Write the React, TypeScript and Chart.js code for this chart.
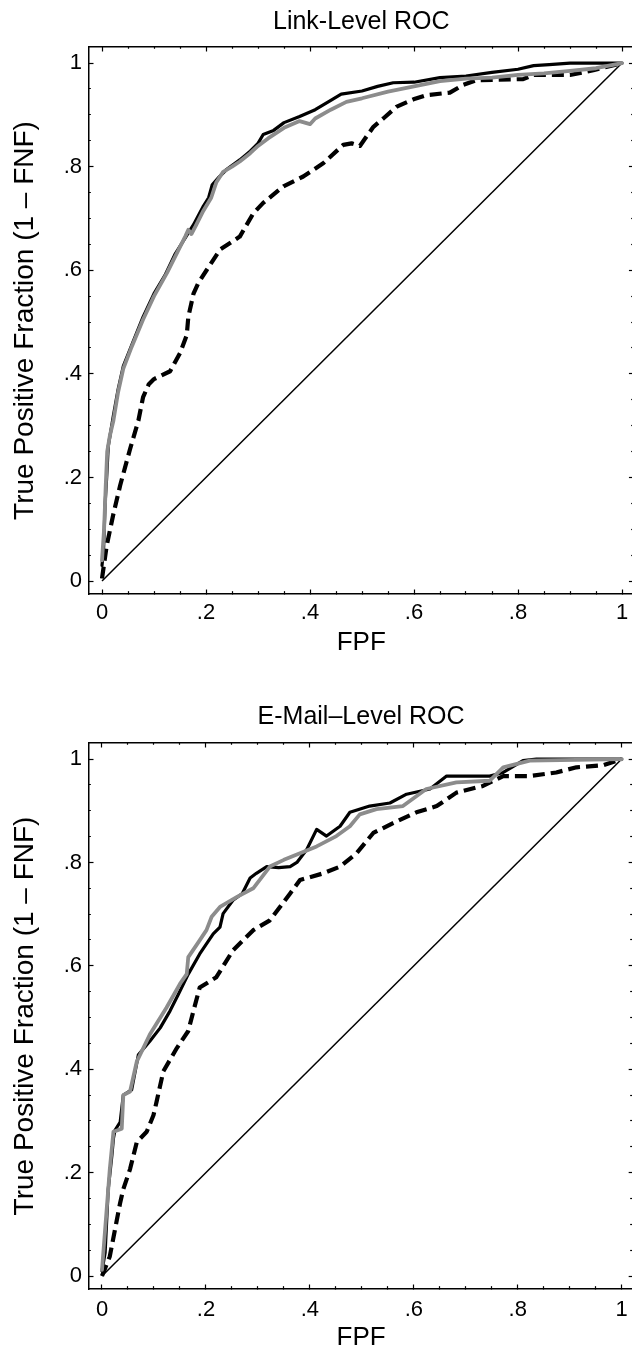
import React, { useEffect, useRef } from 'react';
import { Chart, registerables } from 'chart.js';

Chart.register(...registerables);

const FONT = "'Liberation Sans', Arial, Helvetica, sans-serif";

// ---- tick definitions ----
const MAJOR_TICKS = [0, 0.2, 0.4, 0.6, 0.8, 1];
const TICK_LABELS = ['0', '.2', '.4', '.6', '.8', '1'];
const ALL_TICKS = [0, 0.05, 0.1, 0.15, 0.2, 0.25, 0.3, 0.35, 0.4, 0.45, 0.5, 0.55, 0.6, 0.65, 0.7, 0.75, 0.8, 0.85, 0.9, 0.95, 1];

const X_TITLE = 'FPF';
const Y_TITLE = 'True Positive Fraction (1 – FNF)';
const TITLE_LINK = 'Link-Level ROC';
const TITLE_EMAIL = 'E-Mail–Level ROC';

// ---- chance diagonal ----
const CHANCE: [number, number][] = [[0, 0], [1, 1]];

// ---- Link-Level ROC ----
const LINK_BLACK: [number, number][] = [
  [0, 0.03], [0.003, 0.06], [0.006, 0.15], [0.009, 0.2], [0.012, 0.26], [0.017, 0.29], [0.022, 0.32],
  [0.031, 0.37], [0.041, 0.415], [0.057, 0.455], [0.079, 0.51], [0.1, 0.555], [0.121, 0.59], [0.14, 0.63],
  [0.166, 0.672], [0.176, 0.688], [0.195, 0.724], [0.205, 0.74], [0.212, 0.765], [0.225, 0.78], [0.24, 0.795],
  [0.265, 0.813], [0.285, 0.83], [0.3, 0.845], [0.31, 0.862], [0.33, 0.87], [0.35, 0.885], [0.38, 0.897],
  [0.41, 0.91], [0.44, 0.928], [0.46, 0.94], [0.5, 0.946], [0.53, 0.955], [0.56, 0.962], [0.6, 0.963],
  [0.65, 0.972], [0.7, 0.975], [0.75, 0.982], [0.8, 0.988], [0.83, 0.995], [0.86, 0.997], [0.9, 1.0], [1, 1],
];
const LINK_GRAY: [number, number][] = [
  [0, 0.04], [0.004, 0.1], [0.007, 0.18], [0.01, 0.25], [0.015, 0.28], [0.022, 0.31], [0.031, 0.365],
  [0.041, 0.41], [0.057, 0.452], [0.079, 0.505], [0.1, 0.55], [0.125, 0.595], [0.145, 0.635], [0.16, 0.665],
  [0.166, 0.678], [0.172, 0.67], [0.18, 0.685], [0.195, 0.715], [0.21, 0.74], [0.22, 0.77], [0.233, 0.79],
  [0.25, 0.8], [0.265, 0.81], [0.285, 0.826], [0.3, 0.84], [0.32, 0.855], [0.35, 0.875], [0.38, 0.888],
  [0.4, 0.882], [0.41, 0.893], [0.44, 0.91], [0.47, 0.925], [0.5, 0.932], [0.55, 0.945], [0.6, 0.955],
  [0.65, 0.965], [0.7, 0.97], [0.75, 0.972], [0.8, 0.977], [0.85, 0.98], [0.9, 0.985], [0.95, 0.99], [1, 1],
];
const LINK_DASHED: [number, number][] = [
  [0, 0.005], [0.009, 0.068], [0.022, 0.13], [0.035, 0.185], [0.054, 0.255], [0.07, 0.31], [0.079, 0.355],
  [0.09, 0.38], [0.1, 0.39], [0.131, 0.405], [0.15, 0.44], [0.163, 0.475], [0.166, 0.51], [0.176, 0.555],
  [0.185, 0.575], [0.201, 0.6], [0.227, 0.64], [0.265, 0.665], [0.291, 0.71], [0.31, 0.73], [0.349, 0.762],
  [0.387, 0.781], [0.426, 0.807], [0.464, 0.842], [0.48, 0.845], [0.496, 0.84], [0.51, 0.86], [0.522, 0.877],
  [0.541, 0.893], [0.567, 0.916], [0.599, 0.93], [0.624, 0.938], [0.669, 0.943], [0.695, 0.958], [0.72, 0.967],
  [0.81, 0.969], [0.829, 0.977], [0.9, 0.977], [0.945, 0.986], [0.98, 0.995], [1, 1],
];

// ---- E-Mail-Level ROC ----
const EMAIL_BLACK: [number, number][] = [
  [0, 0.01], [0.006, 0.045], [0.012, 0.168], [0.019, 0.233], [0.022, 0.266], [0.025, 0.282], [0.035, 0.298],
  [0.041, 0.35], [0.057, 0.36], [0.07, 0.428], [0.092, 0.454], [0.112, 0.48], [0.131, 0.513], [0.147, 0.545],
  [0.166, 0.584], [0.188, 0.623], [0.214, 0.662], [0.227, 0.675], [0.233, 0.701], [0.252, 0.727], [0.27, 0.74],
  [0.285, 0.77], [0.297, 0.779], [0.317, 0.792], [0.34, 0.79], [0.362, 0.792], [0.375, 0.8], [0.394, 0.825],
  [0.413, 0.864], [0.432, 0.851], [0.458, 0.87], [0.477, 0.897], [0.515, 0.909], [0.554, 0.915], [0.586, 0.932],
  [0.631, 0.942], [0.663, 0.967], [0.701, 0.967], [0.746, 0.967], [0.772, 0.974], [0.81, 0.997], [0.836, 1], [1, 1],
];
const EMAIL_GRAY: [number, number][] = [
  [0, 0.012], [0.015, 0.207], [0.022, 0.279], [0.038, 0.285], [0.041, 0.35], [0.054, 0.357], [0.067, 0.415],
  [0.092, 0.467], [0.124, 0.519], [0.15, 0.565], [0.163, 0.584], [0.166, 0.617], [0.185, 0.645], [0.201, 0.669],
  [0.211, 0.695], [0.227, 0.714], [0.259, 0.733], [0.291, 0.75], [0.323, 0.792], [0.35, 0.805], [0.381, 0.818],
  [0.413, 0.831], [0.451, 0.851], [0.477, 0.87], [0.496, 0.893], [0.528, 0.903], [0.579, 0.909], [0.624, 0.942],
  [0.682, 0.955], [0.746, 0.958], [0.772, 0.984], [0.823, 0.997], [1, 1],
];
const EMAIL_DASHED: [number, number][] = [
  [0, 0], [0.015, 0.038], [0.025, 0.09], [0.035, 0.142], [0.041, 0.168], [0.054, 0.207], [0.067, 0.259],
  [0.086, 0.279], [0.099, 0.311], [0.105, 0.337], [0.118, 0.396], [0.144, 0.441], [0.166, 0.474], [0.176, 0.513],
  [0.188, 0.558], [0.22, 0.578], [0.252, 0.63], [0.291, 0.669], [0.323, 0.688], [0.362, 0.74], [0.381, 0.766],
  [0.426, 0.779], [0.458, 0.792], [0.49, 0.818], [0.522, 0.857], [0.56, 0.876], [0.605, 0.897], [0.644, 0.909],
  [0.682, 0.935], [0.733, 0.948], [0.772, 0.967], [0.823, 0.967], [0.874, 0.974], [0.913, 0.984], [0.964, 0.988], [1, 1],
];

// ---- axis ranges ----
const X_MIN = -0.025;
const X_MAX = 1.022;
const Y_MIN = -0.025;
const Y_MAX = 1.031;

const TL = 4.5; // major tick length (inward)
const MINOR = 2.6; // minor tick length
const BORDER_W = 1.5;

const isMajor = (v: number) => MAJOR_TICKS.some((m) => Math.abs(m - v) < 1e-6);
const tickLabel = (v: number) => {
  const i = MAJOR_TICKS.findIndex((m) => Math.abs(m - v) < 1e-6);
  return i >= 0 ? TICK_LABELS[i] : '';
};

const pts = (arr: [number, number][]) => arr.map(([x, y]) => ({ x, y }));

function gridOpts(startsInside: boolean) {
  const total = TL + BORDER_W / 2;
  return {
    drawOnChartArea: false,
    drawTicks: true,
    tickLength: -TL,
    tickColor: '#000',
    tickWidth: 1.2,
    tickBorderDash: (ctx: any) => {
      const v = ctx && ctx.tick ? ctx.tick.value : 0;
      if (isMajor(v)) return [];
      return startsInside ? [0, total - MINOR, MINOR + 1, 60] : [MINOR + BORDER_W / 2, 60];
    },
  };
}

const setTicks = (scale: any) => {
  scale.ticks = ALL_TICKS.map((v) => ({ value: v }));
};

interface Spec {
  title: string;
  black: [number, number][];
  gray: [number, number][];
  dashed: [number, number][];
  height: number;
  titlePadTop: number;
  titlePadBottom: number;
  xAxisHeight: number;
  xLabelPad: number;
  xTitlePadBottom: number;
}

const CANVAS_W = 640;
const LEFT_W = 89;
const PLOT_W = (X_MAX - X_MIN) * 520;

function makeConfig(s: Spec): any {
  return {
    type: 'scatter',
    data: {
      datasets: [
        { data: pts(s.gray), borderColor: '#8c8c8c', borderWidth: 3.8, showLine: true, pointRadius: 0, borderJoinStyle: 'round', borderCapStyle: 'round' },
        { data: pts(s.black), borderColor: '#000', borderWidth: 3.2, showLine: true, pointRadius: 0, borderJoinStyle: 'round', borderCapStyle: 'round' },
        { data: pts(s.dashed), borderColor: '#000', borderWidth: 4.2, borderDash: [12, 6], showLine: true, pointRadius: 0, borderJoinStyle: 'round' },
        { data: pts(CHANCE), borderColor: '#000', borderWidth: 1.5, showLine: true, pointRadius: 0 },
      ],
    },
    options: {
      animation: false,
      responsive: false,
      events: [],
      layout: { autoPadding: false, padding: { left: 0, right: CANVAS_W - LEFT_W - PLOT_W, top: 0, bottom: 0 } },
      plugins: {
        legend: { display: false },
        tooltip: { enabled: false },
        title: {
          display: true,
          fullSize: false,
          text: s.title,
          color: '#000',
          font: { family: FONT, size: 25, weight: 'normal', lineHeight: 1.2 },
          padding: { top: s.titlePadTop, bottom: s.titlePadBottom },
        },
      },
      scales: {
        x: {
          type: 'linear',
          position: 'bottom',
          min: X_MIN,
          max: X_MAX,
          afterBuildTicks: setTicks,
          afterFit: (sc: any) => { sc.height = s.xAxisHeight; },
          border: { display: true, color: '#000', width: BORDER_W },
          grid: gridOpts(false),
          ticks: {
            autoSkip: false,
            maxRotation: 0,
            minRotation: 0,
            padding: s.xLabelPad,
            color: '#000',
            font: { family: FONT, size: 22 },
            callback: (v: any) => tickLabel(Number(v)),
          },
          title: {
            display: true,
            text: X_TITLE,
            color: '#000',
            font: { family: FONT, size: 26, lineHeight: 1 },
            padding: { top: 0, bottom: s.xTitlePadBottom },
          },
        },
        x2: {
          type: 'linear',
          axis: 'x',
          position: 'top',
          min: X_MIN,
          max: X_MAX,
          afterBuildTicks: setTicks,
          afterFit: (sc: any) => { sc.height = 0; },
          border: { display: true, color: '#000', width: BORDER_W },
          grid: gridOpts(true),
          ticks: { display: false, autoSkip: false },
        },
        y: {
          type: 'linear',
          position: 'left',
          min: Y_MIN,
          max: Y_MAX,
          afterBuildTicks: setTicks,
          afterFit: (sc: any) => { sc.width = LEFT_W; },
          border: { display: true, color: '#000', width: BORDER_W },
          grid: gridOpts(true),
          ticks: {
            autoSkip: false,
            padding: 11.5,
            color: '#000',
            font: { family: FONT, size: 22 },
            callback: (v: any) => tickLabel(Number(v)),
          },
          title: {
            display: true,
            text: Y_TITLE,
            color: '#000',
            font: { family: FONT, size: 28, lineHeight: 1 },
            padding: { top: 11, bottom: 0 },
          },
        },
        y2: {
          type: 'linear',
          axis: 'y',
          position: 'right',
          min: Y_MIN,
          max: Y_MAX,
          afterBuildTicks: setTicks,
          afterFit: (sc: any) => { sc.width = 0; },
          border: { display: true, color: '#000', width: BORDER_W },
          grid: gridOpts(false),
          ticks: { display: false, autoSkip: false },
        },
      },
    },
  };
}

const SPECS: Spec[] = [
  {
    title: TITLE_LINK, black: LINK_BLACK, gray: LINK_GRAY, dashed: LINK_DASHED,
    height: 675, titlePadTop: 7, titlePadBottom: 10, xAxisHeight: 81, xLabelPad: 10.3, xTitlePadBottom: 19,
  },
  {
    title: TITLE_EMAIL, black: EMAIL_BLACK, gray: EMAIL_GRAY, dashed: EMAIL_DASHED,
    height: 676, titlePadTop: 27, titlePadBottom: 11, xAxisHeight: 62, xLabelPad: 12, xTitlePadBottom: 0,
  },
];

function RocChart({ spec }: { spec: Spec }) {
  const ref = useRef<HTMLCanvasElement | null>(null);
  useEffect(() => {
    if (!ref.current) return;
    const chart = new Chart(ref.current, makeConfig(spec));
    return () => chart.destroy();
  }, [spec]);
  return (
    <canvas
      ref={ref}
      width={CANVAS_W}
      height={spec.height}
      style={{ display: 'block', width: CANVAS_W, height: spec.height }}
    />
  );
}

export default function App() {
  return (
    <div
      style={{
        position: 'absolute',
        left: 0,
        top: 0,
        width: 632,
        height: 1351,
        overflow: 'hidden',
        background: '#fff',
      }}
    >
      {SPECS.map((s, i) => (
        <RocChart key={i} spec={s} />
      ))}
    </div>
  );
}
